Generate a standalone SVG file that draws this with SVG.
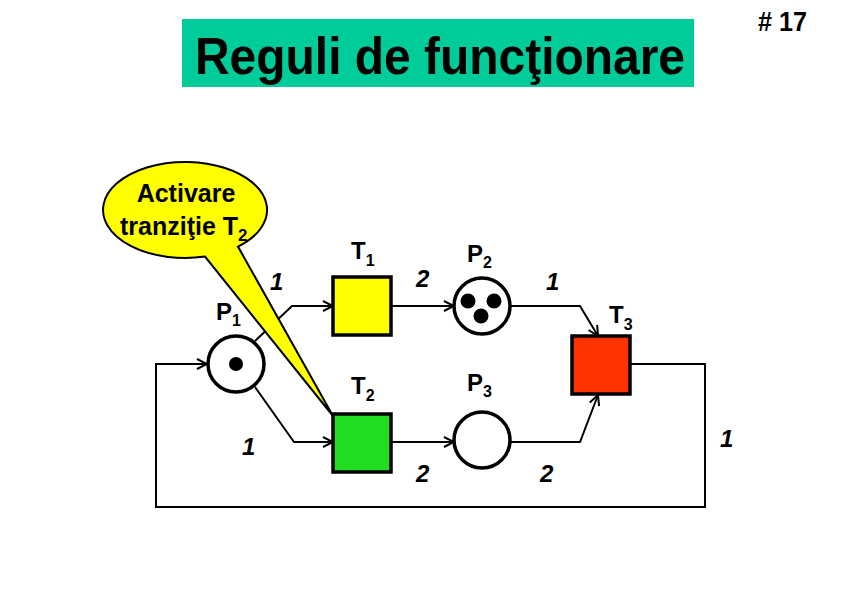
<svg xmlns="http://www.w3.org/2000/svg" width="842" height="596" viewBox="0 0 842 596">
<style>
.t{font-family:"Liberation Sans",Arial,sans-serif;font-weight:bold;fill:#000}
.lbl{font-size:24px}
.sub{font-size:16px}
.w{font-size:24px;font-style:italic}
.place{fill:#fff;stroke:#000;stroke-width:3.5}
.trans{stroke:#000;stroke-width:3.5}
.arc{fill:none;stroke:#000;stroke-width:2}
.tok{fill:#000}
</style>
<defs>
<marker id="ah" viewBox="0 0 12 12" refX="11" refY="6" markerWidth="12" markerHeight="12" markerUnits="userSpaceOnUse" orient="auto">
<path d="M1,1 L11,6 L1,11" fill="none" stroke="#000" stroke-width="2"/>
</marker>
</defs>
<rect width="842" height="596" fill="#fff"/>
<g id="title">
<rect x="182" y="19" width="512" height="68" fill="#00CC99"/>
<text class="t" x="440" y="74" font-size="52" text-anchor="middle" textLength="490" lengthAdjust="spacingAndGlyphs">Reguli de funcţionare</text>
</g>
<text class="t" x="758" y="31" font-size="27" textLength="49" lengthAdjust="spacingAndGlyphs"># 17</text>
<g id="connectors">
<polyline class="arc" points="255,341 292,306 333,306" marker-end="url(#ah)"/>
<polyline class="arc" points="255,387 294,442 333,442" marker-end="url(#ah)"/>
<line class="arc" x1="391" y1="306" x2="454" y2="306" marker-end="url(#ah)"/>
<line class="arc" x1="391" y1="442" x2="454" y2="442" marker-end="url(#ah)"/>
<polyline class="arc" points="510,306 580,306 598,336" marker-end="url(#ah)"/>
<polyline class="arc" points="510,442 580,442 598,395" marker-end="url(#ah)"/>
<polyline class="arc" points="630,364 705,364 705,507 156,507 156,364 207,364" marker-end="url(#ah)"/>
<text class="t w" x="270" y="290">1</text>
<text class="t w" x="416" y="287">2</text>
<text class="t w" x="546" y="290">1</text>
<text class="t w" x="242" y="455">1</text>
<text class="t w" x="416" y="482">2</text>
<text class="t w" x="540" y="482">2</text>
<text class="t w" x="720" y="447">1</text>
</g>
<g id="P1">
<circle class="place" cx="236" cy="364" r="28"/>
<circle class="tok" cx="236" cy="364" r="7"/>
<text class="t lbl" x="216" y="320">P<tspan class="sub" dy="6">1</tspan></text>
</g>
<g id="P2">
<circle class="place" cx="482" cy="306" r="28"/>
<circle class="tok" cx="468" cy="301" r="7.5"/>
<circle class="tok" cx="494" cy="301" r="7.5"/>
<circle class="tok" cx="481" cy="316" r="7.5"/>
<text class="t lbl" x="467" y="262">P<tspan class="sub" dy="6">2</tspan></text>
</g>
<g id="P3">
<circle class="place" cx="482" cy="440" r="28"/>
<text class="t lbl" x="467" y="391">P<tspan class="sub" dy="6">3</tspan></text>
</g>
<g id="T1">
<rect class="trans" x="333" y="277" width="58" height="58" fill="#FFFF00"/>
<text class="t lbl" x="351" y="259">T<tspan class="sub" dy="7">1</tspan></text>
</g>
<g id="T2">
<rect class="trans" x="333" y="414" width="58" height="58" fill="#22DD22"/>
<text class="t lbl" x="351" y="394">T<tspan class="sub" dy="7">2</tspan></text>
</g>
<g id="T3">
<rect class="trans" x="572" y="336" width="58" height="58" fill="#FF3300"/>
<text class="t lbl" x="609" y="323">T<tspan class="sub" dy="7">3</tspan></text>
</g>
<g id="callout">
<path d="M238,246.6 A82,48 0 1 0 205,256.5 L333,416 Z" fill="#FFFF00" stroke="#000" stroke-width="2"/>
<text class="t" x="186" y="202" font-size="25" text-anchor="middle">Activare</text>
<text class="t" x="120" y="235" font-size="25">tranziţie T<tspan font-size="17" dy="6">2</tspan></text>
</g>
</svg>
